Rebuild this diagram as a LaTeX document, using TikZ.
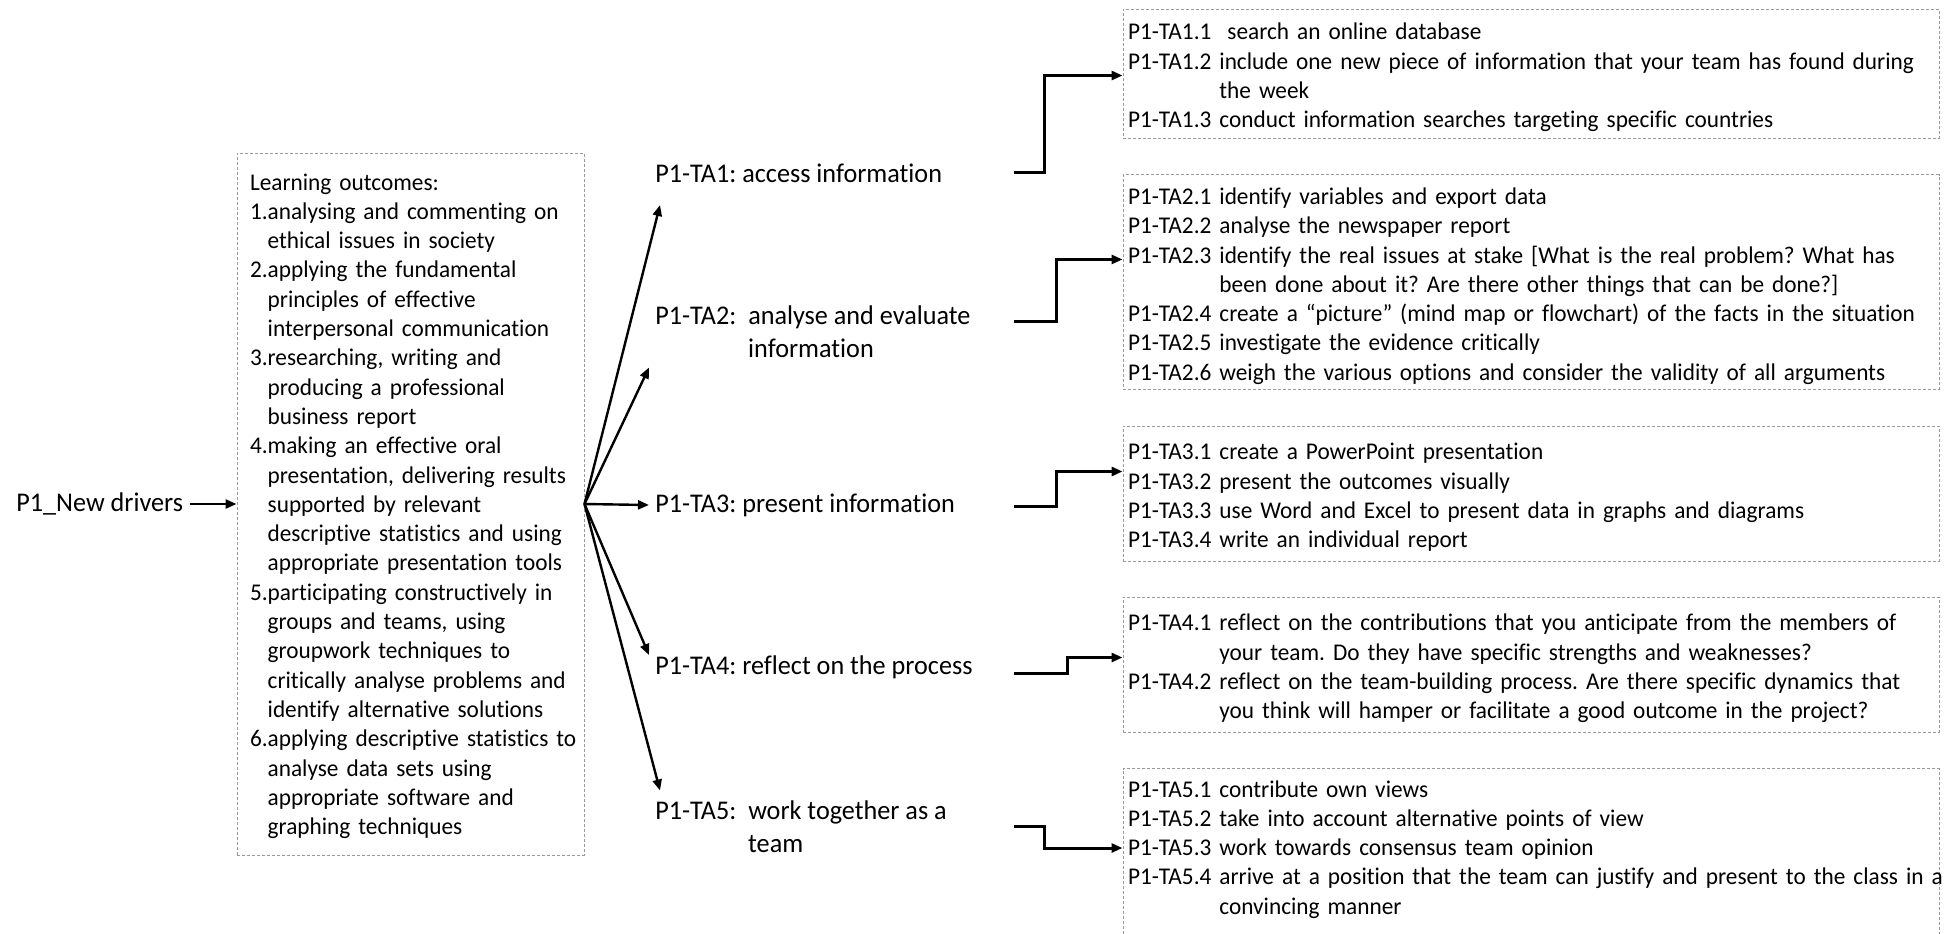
\documentclass[tikz,border=0pt]{standalone}
\usepackage{fontspec}
\setmainfont{Carlito}[Ligatures=CommonOff, FakeStretch=0.97]
\usetikzlibrary{arrows.meta, positioning, calc}
\frenchspacing
\newcommand{\loind}{\hphantom{0.}}
\newcommand{\taind}{\hphantom{P1-TA0.0\ }}
\newcommand{\boxlines}[2][14.75pt]{\noindent\begin{tabular}{@{}l@{}}\rule{0pt}{#1}#2\end{tabular}}

\begin{document}
\begin{tikzpicture}[
    x=0.5pt, y=-0.5pt,
    lbl/.style={inner sep=0pt, align=left, font=\fontsize{13.5}{16.5}\selectfont},
    dotbox/.style={draw=black!40, dash pattern=on 1.5pt off 1pt, line width=0.5pt, inner ysep=0pt, font=\fontsize{12}{14.65}\selectfont},
    outbox/.style={dotbox, text width=160.5pt, inner xsep=6.5pt, minimum height=351pt},
    tabox/.style={dotbox, text width=403pt, inner xsep=2.5pt},
    fan/.style={-{Triangle[length=5.5pt, width=4.5pt]}, line width=1.2pt},
    link/.style={-{Triangle[length=5.5pt, width=4.5pt]}, line width=1.5pt}
]
\useasboundingbox (0,0) rectangle (1944,933);

% learning outcomes
\node[outbox] (lo) at (410.5,504) {\boxlines[12.75pt]{Learning outcomes:\\
1.analysing and commenting on\\
\loind ethical issues in society\\
2.applying the fundamental\\
\loind principles of effective\\
\loind interpersonal communication\\
3.researching, writing and\\
\loind producing a professional\\
\loind business report\\
4.making an effective oral\\
\loind presentation, delivering results\\
\loind supported by relevant\\
\loind descriptive statistics and using\\
\loind appropriate presentation tools\\
5.participating constructively in\\
\loind groups and teams, using\\
\loind groupwork techniques to\\
\loind critically analyse problems and\\
\loind identify alternative solutions\\
6.applying descriptive statistics to\\
\loind analyse data sets using\\
\loind appropriate software and\\
\loind graphing techniques}};
\node[lbl, left=26.5pt of lo] (drv) {P1\_New drivers};

% task areas
\node[lbl, anchor=west] (ta1) at (655,173) {P1-TA1: access information};
\node[lbl, anchor=west] (ta2) at (655,331.5) {P1-TA2:\ \ analyse and evaluate\\\hphantom{P1-TA2:\ \ }information};
\node[lbl, anchor=west] (ta3) at (655,505) {P1-TA3: present information};
\node[lbl, anchor=west] (ta4) at (655,667) {P1-TA4: reflect on the process};
\node[lbl, anchor=west] (ta5) at (655,826.5) {P1-TA5:\ \ work together as a\\\hphantom{P1-TA5:\ \ }team};

% activities
\node[tabox, minimum height=64.5pt] (box1) at (1531,73.5) {\boxlines{P1-TA1.1\ \ search an online database\\
P1-TA1.2 include one new piece of information that your team has found during\\
\taind the week\\
P1-TA1.3 conduct information searches targeting specific countries}};
\node[tabox, minimum height=107pt] (box2) at (1531,282) {\boxlines{P1-TA2.1 identify variables and export data\\
P1-TA2.2 analyse the newspaper report\\
P1-TA2.3 identify the real issues at stake [What is the real problem? What has\\
\taind been done about it? Are there other things that can be done?]\\
P1-TA2.4 create a “picture” (mind map or flowchart) of the facts in the situation\\
P1-TA2.5 investigate the evidence critically\\
P1-TA2.6 weigh the various options and consider the validity of all arguments}};
\node[tabox, minimum height=67.5pt] (box3) at (1531,493.5) {\boxlines{P1-TA3.1 create a PowerPoint presentation\\
P1-TA3.2 present the outcomes visually\\
P1-TA3.3 use Word and Excel to present data in graphs and diagrams\\
P1-TA3.4 write an individual report}};
\node[tabox, minimum height=67.5pt] (box4) at (1531,664.5) {\boxlines{P1-TA4.1 reflect on the contributions that you anticipate from the members of\\
\taind your team. Do they have specific strengths and weaknesses?\\
P1-TA4.2 reflect on the team-building process. Are there specific dynamics that\\
\taind you think will hamper or facilitate a good outcome in the project?}};
\node[tabox, anchor=north, inner ysep=4pt, text depth=60pt] (box5) at (1531,768) {\boxlines[10.25pt]{P1-TA5.1 contribute own views\\
P1-TA5.2 take into account alternative points of view\\
P1-TA5.3 work towards consensus team opinion\\
P1-TA5.4 arrive at a position that the team can justify and present to the class in a\\
\taind convincing manner}};

% arrows
\draw[fan, shorten <=3pt] (drv.east) -- (lo.west);
\draw[fan] (lo.east) -- ($(ta1.west)+(5,32)$);
\draw[fan] (lo.east) -- ($(ta2.west)+(-6,36)$);
\draw[fan] (lo.east) -- ($(ta3.west)+(-6,0)$);
\draw[fan] (lo.east) -- ($(ta4.west)+(-6,-12)$);
\draw[fan] (lo.east) -- ($(ta5.west)+(5,-36)$);

\coordinate (o1) at (1014,172);
\coordinate (o2) at (1014,321);
\coordinate (o3) at (1014,506);
\coordinate (o4) at (1014,673);
\coordinate (o5) at (1014,826);
\draw[link] (o1) -- ++(30,0) |- ($(box1.north west)+(0,67)$);
\draw[link] (o2) -- ++(42,0) |- ($(box2.north west)+(0,85)$);
\draw[link] (o3) -- ++(42,0) |- ($(box3.north west)+(0,46)$);
\draw[link] (o4) -- ++(53,0) |- ($(box4.north west)+(0,61)$);
\draw[link] (o5) -- ++(30,0) |- ($(box5.north west)+(0,80)$);
\end{tikzpicture}
\end{document}
